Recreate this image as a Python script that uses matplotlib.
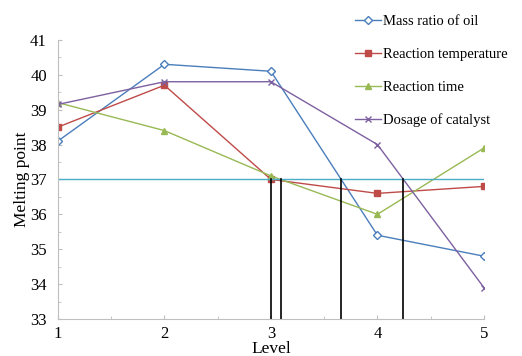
import numpy as np
import matplotlib
matplotlib.use('Agg')
import matplotlib.pyplot as plt
from matplotlib.ticker import MultipleLocator

plt.rcParams['font.family'] = ['Liberation Serif', 'DejaVu Serif']

# Data
levels = [1, 2, 3, 4, 5]
mass_ratio = [38.1, 40.3, 40.1, 35.4, 34.8]
reaction_temp = [38.5, 39.7, 37.0, 36.6, 36.8]
reaction_time = [39.2, 38.4, 37.1, 36.0, 37.9]
catalyst = [39.15, 39.8, 39.8, 38.0, 33.9]
threshold = 37.0

series = [
    ("Mass ratio of oil", mass_ratio, '#4a7ebb', 'D', 'white'),
    ("Reaction temperature", reaction_temp, '#be4b48', 's', '#be4b48'),
    ("Reaction time", reaction_time, '#98b954', '^', '#98b954'),
    ("Dosage of catalyst", catalyst, '#7d60a0', 'x', '#7d60a0'),
]


def crossing(xs, ys, level, start=2):
    """First x (from index start) where the polyline reaches level going down."""
    for i in range(start, len(xs) - 1):
        y0, y1 = ys[i], ys[i + 1]
        if y0 >= level >= y1 and y0 != y1:
            return xs[i] + (y0 - level) / (y0 - y1) * (xs[i + 1] - xs[i])
    return None


fig = plt.figure(figsize=(5.22, 3.56), dpi=100)
ax = fig.add_axes([0.111, 0.104, 0.816, 0.784])

for name, vals, color, marker, face in series:
    ax.plot(levels, vals, color=color, marker=marker, markersize=4.5 if marker != 'x' else 5,
            markerfacecolor=face, markeredgecolor=color, linewidth=1.0, label=name)

ax.plot([levels[0], levels[-1]], [threshold, threshold], color='#4bacc6', linewidth=1.0)

# vertical drop lines where each curve crosses the threshold
for name, vals, color, marker, face in series:
    xc = crossing(levels, vals, threshold)
    if xc is not None:
        ax.plot([xc, xc], [33, threshold], color='black', linewidth=1.2)

ax.set_xlim(1, 5)
ax.set_ylim(33, 41)
ax.xaxis.set_major_locator(MultipleLocator(1))
ax.xaxis.set_minor_locator(MultipleLocator(0.5))
ax.yaxis.set_major_locator(MultipleLocator(1))
ax.yaxis.set_minor_locator(MultipleLocator(0.5))

for side in ('top', 'right'):
    ax.spines[side].set_visible(False)
for side in ('left', 'bottom'):
    ax.spines[side].set_color('#bfbfbf')

ax.tick_params(which='both', direction='in', color='#bfbfbf', labelsize=12)
ax.tick_params(axis='y', which='major', length=3, pad=8)
ax.tick_params(axis='x', which='major', length=3, pad=5)
ax.tick_params(which='minor', length=2)

ax.set_ylabel('Melting point', fontsize=12.5, labelpad=0)
ax.set_xlabel('Level', fontsize=12.5, labelpad=-0.5)

fig.legend(loc='upper left', bbox_to_anchor=(0.655, 0.995), frameon=False,
           fontsize=10.5, handlelength=1.8, handletextpad=0.15, labelspacing=1.35)

fig.savefig('out.png', dpi=100, facecolor='white')
